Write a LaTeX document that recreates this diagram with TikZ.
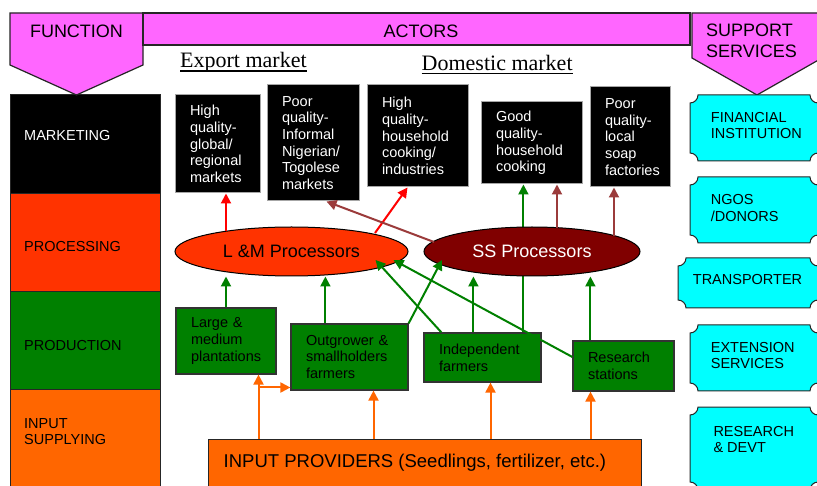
\documentclass[tikz,border=0pt]{standalone}
\usepackage{fontspec}
\setmainfont{Liberation Sans}
\newfontfamily\serifface{Liberation Serif}
\usetikzlibrary{arrows.meta,calc,shapes.geometric}
\hyphenpenalty=10000

\definecolor{hdrpink}{HTML}{FF66FF}
\definecolor{procred}{HTML}{FF3300}
\definecolor{prodgreen}{HTML}{008000}
\definecolor{inorange}{HTML}{FF6600}
\definecolor{ssmaroon}{HTML}{800000}
\definecolor{brownarrow}{HTML}{9B3B3B}
\definecolor{svccyan}{HTML}{00FFFF}

% cyan service panel with concave (plaque) corners: x1 y1 x2 y2
\newcommand\plaque[4]{%
  \filldraw[fill=svccyan, draw=black!85, line width=1pt]
  ({#1+8},#2) -- ({#3-8},#2) .. controls ({#3-8},{#2+4.4}) and ({#3-4.4},{#2+8}) .. (#3,{#2+8})
  -- (#3,{#4-8}) .. controls ({#3-4.4},{#4-8}) and ({#3-8},{#4-4.4}) .. ({#3-8},#4)
  -- ({#1+8},#4) .. controls ({#1+8},{#4-4.4}) and ({#1+4.4},{#4-8}) .. (#1,{#4-8})
  -- (#1,{#2+8}) .. controls ({#1+4.4},{#2+8}) and ({#1+8},{#2+4.4}) .. ({#1+8},#2) -- cycle;}

\tikzset{
  smallfont/.style={font=\fontsize{14.5}{16.7}\selectfont},
  bigfont/.style={font=\fontsize{18}{21}\selectfont},
  hdrshape/.style={fill=hdrpink, draw=black!85, line width=1.2pt},
  hdrtext/.style={bigfont, inner sep=0pt},
  market/.style={rectangle, fill=black, draw=black!35, line width=1pt, text=white,
    smallfont, align=left, inner xsep=15pt, inner ysep=0pt},
  grower/.style={rectangle, fill=prodgreen, draw=black!80, line width=1.2pt, text=black,
    smallfont, align=left, inner xsep=15pt, inner ysep=0pt},
  proc/.style={ellipse, draw=black, line width=1pt, inner sep=0pt, bigfont},
  band/.style={rectangle, draw=black!85, line width=1pt, inner sep=0pt, minimum width=150pt},
  bandtext/.style={smallfont, anchor=west, align=left, inner sep=0pt},
  arr/.style={line width=2pt, -{Triangle[length=10pt,width=10pt]}},
  redarr/.style={arr, draw=red, fill=red},
  brownarr/.style={arr, draw=brownarrow, fill=brownarrow},
  greenarr/.style={arr, draw=prodgreen, fill=prodgreen},
  orarr/.style={arr, draw=inorange, fill=inorange},
}

\begin{document}
\begin{tikzpicture}[x=1pt,y=-1pt]
\useasboundingbox (0,0) rectangle (817,486);
\fill[white] (0,0) rectangle (817,486);

% function column
\node[band, fill=black, minimum height=99pt] (bmk) at (85,144.5) {};
\node[band, fill=procred, minimum height=98pt] (bpc) at (85,243) {};
\node[band, fill=prodgreen, minimum height=98pt] (bpd) at (85,341) {};
\node[band, fill=inorange, minimum height=110pt] (bin) at (85,445) {};
\node[bandtext, text=white] (tmk) at (24,136) {MARKETING};
\node[bandtext] (tpc) at (24,247) {PROCESSING};
\node[bandtext] (tpd) at (24,346) {PRODUCTION};
\node[bandtext] (tin) at (24,431.5) {INPUT\\SUPPLYING};

% header banners
\filldraw[hdrshape] (10,13) -- (143,13) -- (143,65) -- (76.5,95) -- (10,65) -- cycle;
\filldraw[hdrshape] (143,13) rectangle (690,45);
\filldraw[hdrshape] (692,13) -- (822,13) -- (822,58) -- (757,95) -- (692,58) -- cycle;
\node[hdrtext] (tfun) at (76.5,31) {FUNCTION};
\node[hdrtext] (tact) at (421,31) {ACTORS};
\node[hdrtext, anchor=west, align=left] (tsup) at (706,41) {SUPPORT\\SERVICES};

% market headings
\node[anchor=base west, inner sep=0pt, font=\serifface\fontsize{22}{26}\selectfont] (export) at (180,68) {Export market};
\draw[line width=1.1pt] ($(export.base west)+(0,3)$) -- ($(export.base east)+(0,3)$);
\node[anchor=base west, inner sep=0pt, font=\serifface\fontsize{22}{26}\selectfont] (domestic) at (421.5,71) {Domestic market};
\draw[line width=1.1pt] ($(domestic.base west)+(0,2.5)$) -- ($(domestic.base east)+(0,2.5)$);

% support services
\plaque{690}{95}{818}{161}
\plaque{690}{177}{818}{243}
\plaque{678}{258}{818}{308}
\plaque{690}{325}{818}{391}
\plaque{690}{407}{818}{490}
\node[bandtext] (tfin) at (710.7,125.5) {FINANCIAL\\INSTITUTION};
\node[bandtext] (tngo) at (710.7,208) {NGOS\\/DONORS};
\node[bandtext] (ttr) at (692.7,279.3) {TRANSPORTER};
\node[bandtext] (tex) at (710.7,355.5) {EXTENSION\\SERVICES};
\node[bandtext] (trd) at (713.3,439.5) {RESEARCH\\\& DEVT};

% markets
\node[market, text width=55pt, minimum height=98pt] (mk1) at (217.5,144) {High\\quality-\\global/\\regional\\markets};
\node[market, text width=62pt, minimum height=116pt] (mk2) at (313,143) {Poor\\quality-\\Informal\\Nigerian/\\Togolese\\markets};
\node[market, text width=71pt, minimum height=102pt] (mk3) at (417.5,136) {High\\quality-\\household\\cooking/\\industries};
\node[market, text width=71pt, minimum height=82pt] (mk4) at (531.5,143) {Good\\quality-\\household\\cooking};
\node[market, text width=50pt, minimum height=100pt] (mk5) at (630,137) {Poor\\quality-\\local\\soap\\factories};

% producers
\node[grower, text width=70pt, minimum height=66pt] (large) at (226,341) {Large \&\\medium\\plantations};
\node[grower, text width=87pt, minimum height=66pt] (og) at (349.5,357) {Outgrower \&\\smallholders\\farmers};
\node[grower, text width=87pt, minimum height=49pt] (ind) at (482.5,357.5) {Independent\\farmers};
\node[grower, text width=71pt, minimum height=50pt] (res) at (623.5,366) {Research\\stations};

% input providers
\node[rectangle, fill=inorange, draw=black!85, line width=1pt, minimum width=433pt,
  minimum height=60pt, inner sep=0pt] (inp) at (424.5,469) {};
\node[anchor=base west, inner sep=0pt, font=\fontsize{18.5}{22}\selectfont] (inptext) at ($(inp.north west)+(16,29)$)
  {INPUT PROVIDERS (Seedlings, fertilizer, etc.)};

% independent farmers feed good-quality cooking market (passes behind SS processors)
\coordinate (indA) at ($(ind.north west)+(100,0)$);
\draw[greenarr] (indA) -- (indA |- mk4.south);

% processors
\node[proc, fill=procred, minimum width=233pt, minimum height=49pt] (lm) at (291.5,251.5) {L \&M Processors};
\node[proc, fill=ssmaroon, text=white, minimum width=216pt, minimum height=49pt] (ss) at (532,251.5) {SS Processors};

% processors to markets
\coordinate (lmA) at ($(lm)+(-65.5,-20.3)$);
\coordinate (lmB) at ($(lm)+(83.5,-18.5)$);
\coordinate (ssA) at ($(ss)+(-98,-9.5)$);
\coordinate (ssB) at ($(ss)+(25,-23.8)$);
\coordinate (ssC) at ($(ss)+(82,-15.9)$);
\draw[redarr] (lmA) -- (lmA |- mk1.south);
\draw[redarr] (lmB) -- ($(mk3.south west)+(41,0)$);
\draw[brownarr] (ssA) -- ($(mk2.south west)+(60,0)$);
\draw[brownarr] (ssB) -- (ssB |- mk4.south);
\draw[brownarr] (ssC) -- (ssC |- mk5.south);

% producers to processors
\coordinate (ogA) at ($(og.north west)+(35,0)$);
\coordinate (indB) at ($(ind.north west)+(18,0)$);
\coordinate (indC) at ($(ind.north west)+(50,0)$);
\coordinate (resA) at ($(res.north west)+(18,0)$);
\coordinate (resB) at ($(res.west)+(0,-9)$);
\draw[greenarr] (large.north) -- (large.north |- lm.south);
\draw[greenarr] (ogA) -- (ogA |- lm.south);
\draw[greenarr] (og.north east) -- ($(ss)+(-90,8.5)$);
\draw[greenarr] (indB) -- ($(lm)+(84,8.5)$);
\draw[greenarr] (resB) -- ($(lm)+(102,8.5)$);
\draw[greenarr] (indC) -- (indC |- ss.south);
\draw[greenarr] (resA) -- (resA |- ss.south);

% input providers to producers
\coordinate (inA) at ($(inp.north west)+(51,0)$);
\coordinate (inB) at ($(inp.north west)+(166,0)$);
\coordinate (inC) at ($(inp.north west)+(283,0)$);
\coordinate (inD) at ($(inp.north west)+(383,0)$);
\coordinate (split) at ($(inp.north west)+(51,-51)$);
\draw[orarr] (inA) -- (inA |- large.south);
\draw[orarr] (split) -- (split -| og.west);
\draw[orarr] (inB) -- (inB |- og.south);
\draw[orarr] (inC) -- (inC |- ind.south);
\draw[orarr] (inD) -- (inD |- res.south);
\end{tikzpicture}
\end{document}
